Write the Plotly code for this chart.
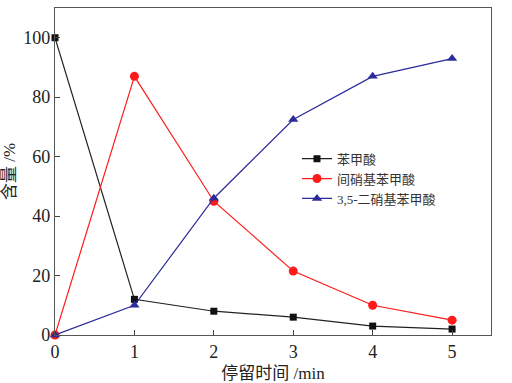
import plotly.graph_objects as go

time_min = [0, 1, 2, 3, 4, 5]
benzoic = [100, 12, 8, 6, 3, 2]
m_nitro = [0, 87, 45, 21.5, 10, 5]
dinitro = [0, 10, 46, 72.5, 87, 93]

names = ["苯甲酸", "间硝基苯甲酸", "3,5-二硝基苯甲酸"]
x_ticks = [0, 1, 2, 3, 4, 5]
y_ticks = [0, 20, 40, 60, 80, 100]

FONT = "Liberation Serif, Times New Roman, Noto Sans CJK SC, serif"

fig = go.Figure()
fig.add_trace(go.Scatter(x=time_min, y=benzoic, name=names[0], mode="lines+markers",
                         cliponaxis=False,
                         line=dict(color="#222222", width=1.2),
                         marker=dict(symbol="square", size=7, color="#111111")))
fig.add_trace(go.Scatter(x=time_min, y=m_nitro, name=names[1], mode="lines+markers",
                         cliponaxis=False,
                         line=dict(color="#ff1a1a", width=1.2),
                         marker=dict(symbol="circle", size=9, color="#ff1a1a")))
fig.add_trace(go.Scatter(x=time_min, y=dinitro, name=names[2], mode="lines+markers",
                         cliponaxis=False,
                         line=dict(color="#2b2b9c", width=1.2),
                         marker=dict(symbol="triangle-up", size=9, color="#2b2b9c")))

fig.update_layout(
    width=512, height=383,
    margin=dict(l=55, r=21, t=8, b=48),
    paper_bgcolor="white", plot_bgcolor="white",
    font=dict(family=FONT, size=17, color="#222222"),
    showlegend=True,
    legend=dict(x=0.555, y=0.585, xanchor="left", yanchor="top",
                font=dict(size=13, family=FONT, color="#333333"),
                bgcolor="rgba(0,0,0,0)", itemwidth=30, tracegroupgap=0),
    xaxis=dict(range=[0, 5.49], tickvals=x_ticks, ticks="inside", ticklen=5,
               tickcolor="#444444", showline=True, linecolor="#555555", linewidth=1.3,
               mirror=True, showgrid=False, zeroline=False, automargin=False,
               title=dict(text="停留时间 /min", font=dict(size=17)),
               tickfont=dict(size=18)),
    yaxis=dict(range=[0, 110], tickvals=y_ticks, ticks="inside", ticklen=5,
               tickcolor="#444444", showline=True, linecolor="#555555", linewidth=1.3,
               mirror=True, showgrid=False, zeroline=False, automargin=False,
               title=dict(text="含量 /%", font=dict(size=17)),
               tickfont=dict(size=18)),
)

fig.write_html("out.html", config={"displayModeBar": False},
               post_script="document.body.style.margin='0';document.body.style.padding='0';")
